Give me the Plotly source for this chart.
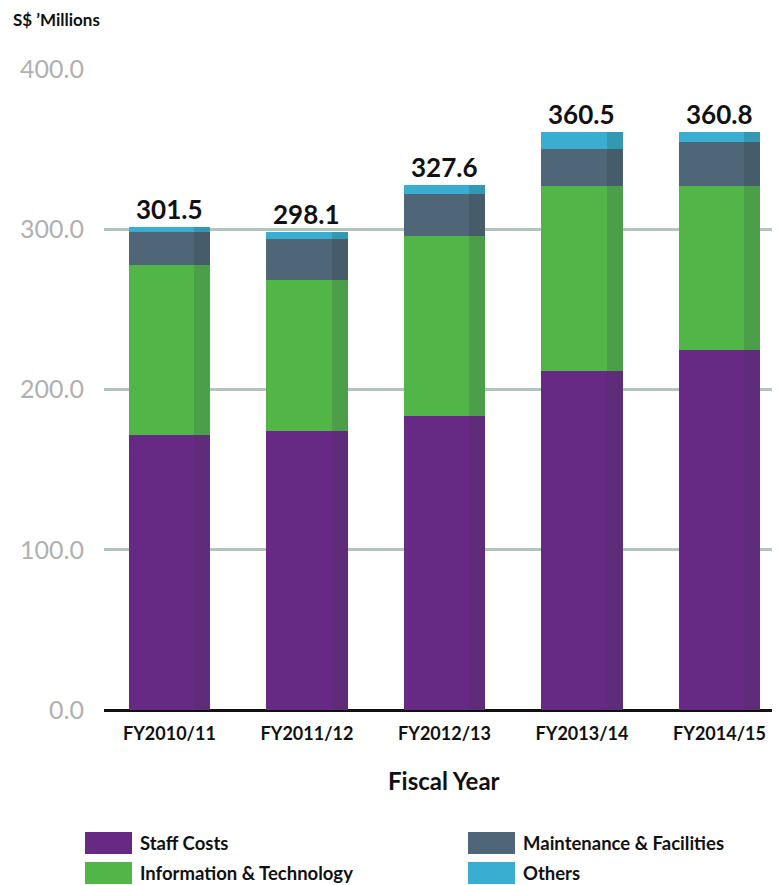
import plotly.graph_objects as go

categories = ["FY2010/11", "FY2011/12", "FY2012/13", "FY2013/14", "FY2014/15"]
staff_costs = [171.6, 174.1, 183.5, 211.5, 224.6]
info_tech = [106.1, 94.2, 112.3, 115.5, 102.4]
maint_fac = [20.6, 25.7, 26.2, 23.1, 27.4]
others = [3.2, 4.1, 5.6, 10.4, 6.4]
totals = [301.5, 298.1, 327.6, 360.5, 360.8]
y_ticks = [0, 100, 200, 300, 400]
y_ticktext = ["0.0", "100.0", "200.0", "300.0", "400.0"]

series_names = ["Staff Costs", "Information & Technology", "Maintenance & Facilities", "Others"]
series_values = [staff_costs, info_tech, maint_fac, others]
main_colors = ["#662a85", "#52b548", "#4f6679", "#39aed0"]
dark_colors = ["#5e2c78", "#4a9f48", "#465c6a", "#3399b3"]

FONT = "Lato"
xs = list(range(len(categories)))
bar_w = 0.59
strip_w = 0.116

# page offset (browser body margin) compensation
OFF = 8
W, H = 780 - OFF, 885 - OFF
L, R, T = 104 - OFF, 0, 69 - OFF
B = H - (710 - OFF)
pw, ph = W - L - R, H - T - B


def px_to_paper(px, py):
    # px, py given in reference-page pixels
    fx, fy = px - OFF, py - OFF
    return (fx - L) / pw, (H - B - fy) / ph


fig = go.Figure()
bases = [0.0] * len(categories)
for name, vals, c, dc in zip(series_names, series_values, main_colors, dark_colors):
    fig.add_trace(go.Bar(x=xs, y=vals, base=list(bases), width=bar_w, marker=dict(color=c, line=dict(width=0)),
                         name=name, showlegend=False, hoverinfo="skip"))
    fig.add_trace(go.Bar(x=[x + bar_w / 2 - strip_w / 2 for x in xs], y=vals, base=list(bases), width=strip_w,
                         marker=dict(color=dc, line=dict(width=0)), showlegend=False, hoverinfo="skip"))
    bases = [b + v for b, v in zip(bases, vals)]

for x, t in zip(xs, totals):
    fig.add_annotation(x=x, y=t, text=f"{t:.1f}", showarrow=False, yanchor="bottom", yshift=0,
                       font=dict(family=FONT, size=26, color="#111111", weight="bold"))

# axis title & unit label
ax, ay = px_to_paper(444, 780)
fig.add_annotation(xref="paper", yref="paper", x=ax, y=ay, text="Fiscal Year", showarrow=False,
                   font=dict(family=FONT, size=24, color="#111111", weight="bold"), xanchor="center", yanchor="middle")
ux, uy = px_to_paper(11, 20)
fig.add_annotation(xref="paper", yref="paper", x=ux, y=uy, text="S$ ’Millions", showarrow=False,
                   font=dict(family=FONT, size=17, color="#111111", weight="bold"), xanchor="left", yanchor="middle")

# manual legend
leg_pos = [(85, 843), (85, 873), (468, 843), (468, 873)]
for (lx, ly), name, c in zip(leg_pos, series_names, main_colors):
    x0, y0 = px_to_paper(lx, ly + 11)
    x1, y1 = px_to_paper(lx + 47, ly - 11)
    fig.add_shape(type="rect", xref="paper", yref="paper", x0=x0, y0=y0, x1=x1, y1=y1,
                  fillcolor=c, line=dict(width=0))
    tx, ty = px_to_paper(lx + 53, ly)
    fig.add_annotation(xref="paper", yref="paper", x=tx, y=ty, text=name, showarrow=False,
                       xanchor="left", yanchor="middle",
                       font=dict(family=FONT, size=18.5, color="#111111", weight="bold"))

fig.update_layout(
    width=W, height=H, barmode="overlay", bargap=0,
    margin=dict(l=L, r=R, t=T, b=B),
    plot_bgcolor="white", paper_bgcolor="white",
    showlegend=False,
    xaxis=dict(range=[-0.476, 4.44], tickvals=xs, ticktext=categories, showgrid=False, zeroline=False,
               showline=False, ticks="", ticklabelstandoff=11,
               tickfont=dict(family=FONT, size=18, color="#111111", weight="bold")),
    yaxis=dict(range=[0, 400], tickvals=y_ticks, ticktext=y_ticktext, showgrid=True, gridcolor="#b3c3bf",
               gridwidth=3, zeroline=True, zerolinecolor="#111111", zerolinewidth=3, showline=False, ticks="",
               ticklabelstandoff=19, tickfont=dict(family=FONT, size=25, color="#b0b0b0")),
)

fig.write_html("out.html")
